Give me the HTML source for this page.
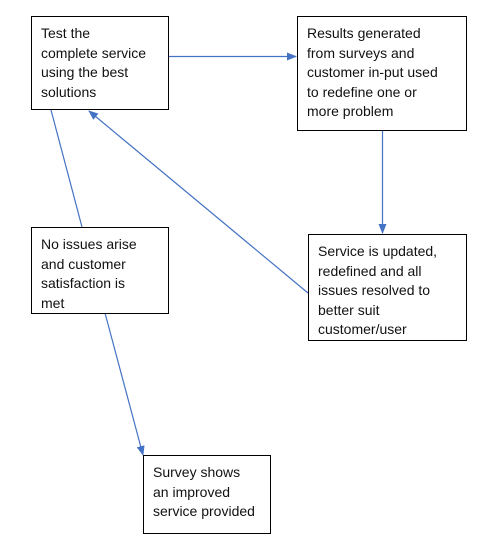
<!DOCTYPE html>
<html><head><meta charset="utf-8"><style>
html,body{margin:0;padding:0;background:#fff;width:497px;height:552px;overflow:hidden;position:relative;font-family:"Liberation Sans",sans-serif;}
.b{position:absolute;border:1px solid #000;box-sizing:border-box;font-size:14px;line-height:19.5px;color:#111;padding:7px 0 0 9px;white-space:nowrap;background:#fff}
svg{position:absolute;left:0;top:0}
</style></head><body>
<svg width="497" height="552">
<defs><marker id="a" markerWidth="10" markerHeight="8" refX="9" refY="4" orient="auto" markerUnits="userSpaceOnUse"><path d="M0,0L10,4L0,8z" fill="#4472c4"/></marker></defs>
<g stroke="#4472c4" stroke-width="1.2" fill="none">
<line x1="169" y1="56.5" x2="296" y2="56.5" marker-end="url(#a)"/>
<line x1="382.5" y1="131" x2="382.5" y2="233" marker-end="url(#a)"/>
<line x1="308" y1="293" x2="89" y2="111" marker-end="url(#a)"/>
<line x1="82" y1="227" x2="51" y2="110"/>
<line x1="105" y1="313" x2="143" y2="455" marker-end="url(#a)"/>
</g></svg>
<div class="b" style="left:31px;top:16px;width:138px;height:94px">Test the<br>complete service<br>using the best<br>solutions</div>
<div class="b" style="left:297px;top:16px;width:170px;height:115px">Results generated<br>from surveys and<br>customer in-put used<br>to redefine one or<br>more problem</div>
<div class="b" style="left:308px;top:234px;width:159px;height:107px">Service is updated,<br>redefined and all<br>issues resolved to<br>better suit<br>customer/user</div>
<div class="b" style="left:31px;top:227px;width:138px;height:87px">No issues arise<br>and customer<br>satisfaction is<br>met</div>
<div class="b" style="left:143px;top:455px;width:128px;height:79px">Survey shows<br>an improved<br>service provided</div>
</body></html>
